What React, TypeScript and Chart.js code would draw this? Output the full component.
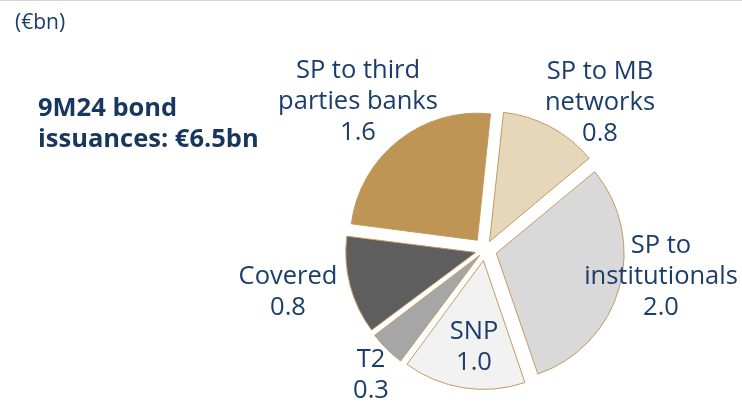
import React, { useEffect, useRef } from "react";
import { Chart, registerables } from "chart.js";

Chart.register(...registerables);

const categories = [
  "SP to MB networks",
  "SP to institutionals",
  "SNP",
  "T2",
  "Covered",
  "SP to third parties banks",
];
const labelLines = [
  ["SP to MB", "networks"],
  ["SP to", "institutionals"],
  ["SNP"],
  ["T2"],
  ["Covered"],
  ["SP to third", "parties banks"],
];
const values = [0.8, 2.0, 1.0, 0.3, 0.8, 1.6];
const colors = ["#E6D6BA", "#D9D9D9", "#F2F2F2", "#A6A6A6", "#5E5E5E", "#BE9555"];
// label block centre relative to pie centre (layout, not data)
const labelOffsets = [
  [115, -147],
  [176, 27],
  [-11, 97],
  [-114, 125],
  [-197, 42],
  [-127, -148],
];

const NAVY = "#17375E";
const LABEL_NAVY = "#1B3D6C";
const FONT = "'Open Sans', Lato, sans-serif";
const EXPLODE = 12.5; // desired radial shift in px

const total = values.reduce((a, b) => a + b, 0);

// Chart.js shifts an arc by offset/4 * (1 + (1 - sin(circ))); invert so every slice moves EXPLODE px
function sliceOffset(ctx: any) {
  const v = values[ctx.dataIndex] ?? 0;
  const circ = (v / total) * Math.PI * 2;
  const fix = 1 - Math.sin(Math.min(Math.PI, circ));
  return (EXPLODE * 4) / (1 + fix);
}

const labelPlugin = {
  id: "sliceLabels",
  afterDatasetsDraw(chart: any) {
    const meta = chart.getDatasetMeta(0);
    const ctx = chart.ctx;
    ctx.save();
    ctx.fillStyle = LABEL_NAVY;
    ctx.font = `25.5px ${FONT}`;
    ctx.textAlign = "center";
    ctx.textBaseline = "middle";
    const lh = 31;
    meta.data.forEach((arc: any, i: number) => {
      const lines = [...labelLines[i], values[i].toFixed(1)];
      const cx = arc.x + labelOffsets[i][0];
      const cy = arc.y + labelOffsets[i][1];
      const start = cy - ((lines.length - 1) * lh) / 2;
      lines.forEach((t, k) => ctx.fillText(t, cx, start + k * lh));
    });
    ctx.restore();
  },
};

export default function App() {
  const ref = useRef<HTMLCanvasElement>(null);
  useEffect(() => {
    if (!ref.current) return;
    const chart = new Chart(ref.current, {
      type: "pie",
      data: {
        labels: categories,
        datasets: [
          {
            data: values,
            backgroundColor: colors,
            borderColor: "#C29B5E",
            borderWidth: 1,
            offset: sliceOffset,
            hoverOffset: 0,
            radius: 127,
          } as any,
        ],
      },
      options: {
        responsive: false,
        animation: false,
        rotation: 6,
        events: [],
        layout: { padding: { left: 335, right: 107, top: 100, bottom: 3 } },
        plugins: {
          legend: { display: false },
          tooltip: { enabled: false },
        },
      } as any,
      plugins: [labelPlugin],
    });
    return () => chart.destroy();
  }, []);

  return (
    <div style={{ position: "absolute", left: 0, top: 0, width: 742, height: 403, background: "#fff", overflow: "hidden" }}>
      <div style={{ position: "absolute", left: 0, top: 0, width: 742, height: 1, background: "#D6D6D6" }} />
      <canvas ref={ref} width={742} height={403} style={{ position: "absolute", left: 0, top: 0 }} />
      <div style={{ position: "absolute", left: 15, top: 10, fontFamily: FONT, fontSize: 21, color: LABEL_NAVY, lineHeight: "22px" }}>
        (€bn)
      </div>
      <div style={{ position: "absolute", left: 38, top: 91, fontFamily: FONT, fontWeight: 700, fontSize: 25.5, color: NAVY, lineHeight: "31px", whiteSpace: "nowrap" }}>
        9M24 bond
        <br />
        issuances: €6.5bn
      </div>
    </div>
  );
}
